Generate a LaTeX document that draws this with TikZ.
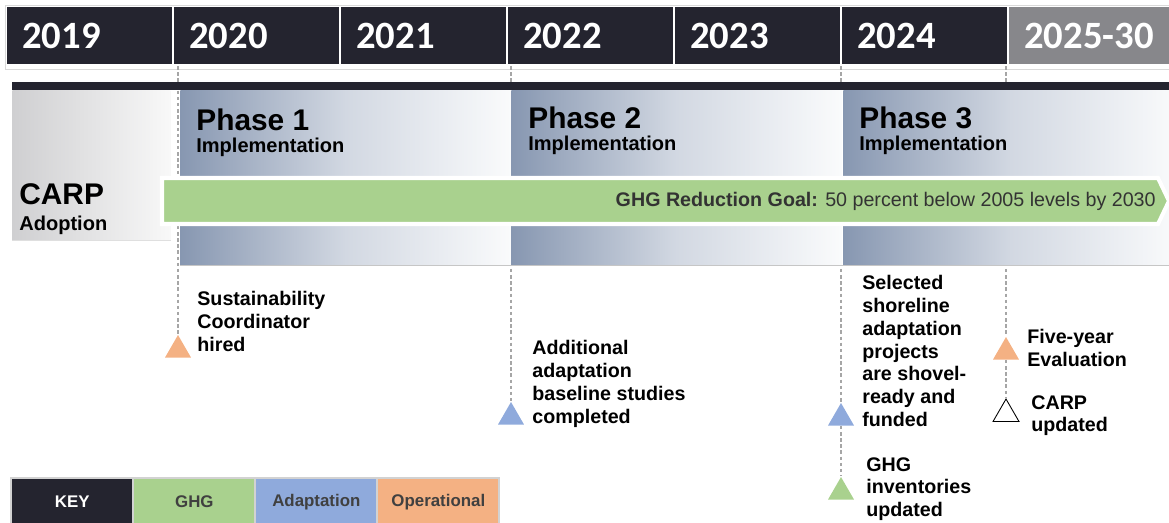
\documentclass[tikz,border=0pt]{standalone}
\usepackage{fontspec}
\setmainfont{Liberation Sans}
\newfontfamily\yearfont{Carlito}
\usetikzlibrary{positioning,shapes.geometric}
\definecolor{Dark}{HTML}{24242F}
\definecolor{Slate}{HTML}{87878B}
\definecolor{Green}{HTML}{A9D18E}
\definecolor{Blue}{HTML}{8FAADC}
\definecolor{Orange}{HTML}{F4B183}
\definecolor{Steel}{HTML}{8797B1}
\definecolor{SteelMid}{HTML}{D2D8E2}
\definecolor{SteelLight}{HTML}{FAFBFC}
\definecolor{CarpDark}{HTML}{CFCFD1}
\definecolor{CarpLight}{HTML}{F8F8F8}
\definecolor{Ink}{HTML}{333333}
\definecolor{KeyText}{HTML}{404040}
\tikzset{yearcell/.style={fill=Dark,text=white,anchor=north west,minimum height=1.14cm,text width=2.7cm,inner xsep=0.3cm,align=left,font=\yearfont\bfseries\fontsize{22}{24}\selectfont},phase/.style={left color=Steel,right color=SteelLight,middle color=SteelMid,anchor=north west,minimum height=3.5cm,inner sep=0pt},phasetxt/.style={anchor=north west,inner sep=0pt,align=left,font=\bfseries\fontsize{11.4}{13}\selectfont},goalband/.style={fill=Green,draw=white,line width=2.3pt},note/.style={anchor=north west,inner sep=0pt,align=left,font=\bfseries\fontsize{11.2}{13}\selectfont},milestone/.style={regular polygon,regular polygon sides=3,minimum size=0.6cm,inner sep=0pt},tick/.style={draw=gray!70,dash pattern=on 2pt off 1.5pt,line width=.6pt},keycell/.style={anchor=north west,minimum width=2.4cm,minimum height=0.9cm,inner sep=0pt,font=\bfseries\fontsize{9.6}{11}\selectfont,text=KeyText}}
\begin{document}
\begin{tikzpicture}[x=0.02cm,y=-0.02cm]
  \useasboundingbox (0,0) rectangle (1169,522);
  % years
  \draw[gray!30] (5,5) rectangle (1180,69);
  \foreach \yr [count=\i from 0] in {2019,2020,2021,2022,2023,2024}
    \node[yearcell] (y\yr) at (7+167*\i,7) {\yr};
  \node[yearcell,fill=Slate] (y2025) at (1009,7) {2025-30};
  \coordinate (hdr) at (0,66);
  % milestones
  \node[milestone,fill=Orange] (hire) at (178,350) {};
  \node[milestone,fill=Blue] (study) at (511,417) {};
  \node[milestone,fill=Blue] (shore) at (841,418) {};
  \node[milestone,fill=Green] (inv) at (841,492) {};
  \node[milestone,fill=Orange] (eval) at (1006,352) {};
  \node[milestone,draw=black,fill=white,line width=.5pt] (upd) at (1006,414) {};
  \draw[tick] (hire.corner 1 |- hdr) -- (hire.corner 1);
  \draw[tick] (study.corner 1 |- hdr) -- (study.corner 1);
  \draw[tick] (shore.corner 1 |- hdr) -- (shore.corner 1) (shore.side 2) -- (inv.corner 1);
  \draw[tick] (eval.corner 1 |- hdr) -- (eval.corner 1) (eval.side 2) -- (upd.corner 1);
  % phases
  \fill[Dark] (12,82) rectangle (1180,90);
  \node[anchor=north west,left color=CarpDark,right color=CarpLight,minimum width=3.16cm,minimum height=3cm,inner sep=0pt] (carp) at (12,90) {};
  \node[phase,minimum width=6.62cm] (ph1) at (180,90) {};
  \node[phase,minimum width=6.6cm] (ph2) at (511,90) {};
  \node[phase,minimum width=6.7cm] (ph3) at (843,90) {};
  \draw[gray!45] (ph1.south west) -- (ph3.south east);
  \draw[gray!25] (carp.south west) -- (carp.south east);
  \path[goalband] (162,178) -- (1158,178) -- (1169,201) -- (1158,224) -- (162,224) -- cycle;
  \node[phasetxt] (p1) at ([shift={(16,18)}]ph1.north west) {{\fontsize{17}{17}\selectfont Phase 1}\\Implementation};
  \node[phasetxt] (p2) at ([shift={(17,16)}]ph2.north west) {{\fontsize{17}{17}\selectfont Phase 2}\\Implementation};
  \node[phasetxt] (p3) at ([shift={(16,16)}]ph3.north west) {{\fontsize{17}{17}\selectfont Phase 3}\\Implementation};
  \node[phasetxt,font=\bfseries\fontsize{11.4}{15}\selectfont] (adopt) at (19,183) {{\fontsize{17}{17}\selectfont CARP}\\Adoption};
  \node[anchor=east,inner sep=0pt,text=Ink,font=\fontsize{11.2}{13}\selectfont] (goal) at (1156,201) {\textbf{GHG Reduction Goal:} 50 percent below 2005 levels by 2030};
  % notes
  \node[note] (hiretxt) at (197,291) {Sustainability\\Coordinator\\hired};
  \node[note] (studytxt) at (532,340) {Additional\\adaptation\\baseline studies\\completed};
  \node[note] (shoretxt) at (862,275) {Selected\\shoreline\\adaptation\\projects\\are shovel-\\ready and\\funded};
  \node[note] (invtxt) at (866,457) {GHG\\inventories\\updated};
  \node[note] (evaltxt) at (1027,329) {Five-year\\Evaluation};
  \node[note] (updtxt) at (1031,395) {CARP\\updated};
  % key
  \fill[gray!35] (10,477) rectangle (500,530);
  \node[keycell,fill=Dark,text=white] (kkey) at (12,479) {KEY};
  \foreach \lab/\col [count=\i] in {GHG/Green,Adaptation/Blue,Operational/Orange}
    \node[keycell,fill=\col] (k\i) at (12+122*\i,479) {\lab};
\end{tikzpicture}
\end{document}
